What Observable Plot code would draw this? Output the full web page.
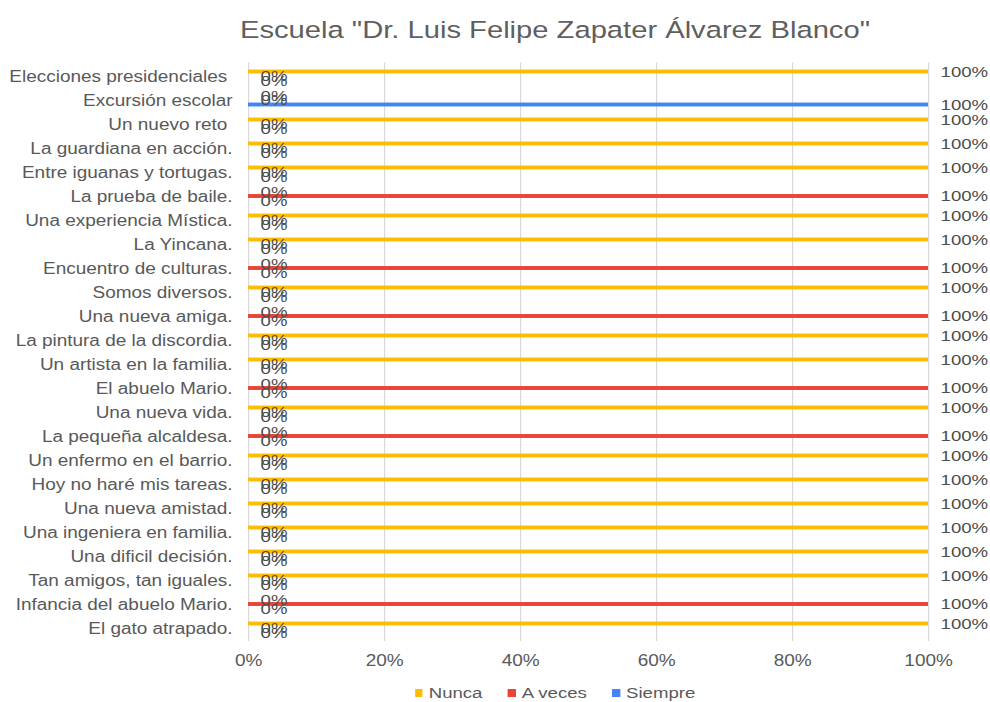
<!DOCTYPE html>
<html>
<head>
<meta charset="utf-8">
<script src="https://cdn.jsdelivr.net/npm/d3@7"></script>
<script src="https://cdn.jsdelivr.net/npm/@observablehq/plot@0.6"></script>
<style>
  html, body { margin: 0; padding: 0; background: #fff; overflow: hidden; }
  #wrap { width: 825px; transform: scaleX(1.2); transform-origin: 0 0; font-family: "Liberation Sans", Arial, sans-serif; }
  #title { width: 825px; box-sizing: border-box; padding-left: 100px; height: 50px; padding-top: 18px; line-height: 24px; font-size: 24.3px; color: #5f5f5f; text-align: center; white-space: nowrap; }
  #legend { width: 825px; box-sizing: border-box; padding-left: 100px; height: 25px; padding-top: 6px; line-height: 20px; font-size: 15.5px; color: #595959; display: flex; justify-content: center; gap: 21px; }
  .item { display: inline-flex; align-items: center; }
  .sw { display: inline-block; width: 6.7px; height: 8px; margin-right: 5px; }
</style>
</head>
<body>
<div id="wrap">
  <div id="title"></div>
  <div id="chart"></div>
  <div id="legend"></div>
</div>
<script>
const title = 'Escuela "Dr. Luis Felipe Zapater Álvarez Blanco"';

const categories = [
  "Elecciones presidenciales\u00A0",
  "Excursión escolar",
  "Un nuevo reto\u00A0",
  "La guardiana en acción.",
  "Entre iguanas y tortugas.",
  "La prueba de baile.",
  "Una experiencia Mística.",
  "La Yincana.",
  "Encuentro de culturas.",
  "Somos diversos.",
  "Una nueva amiga.",
  "La pintura de la discordia.",
  "Un artista en la familia.",
  "El abuelo Mario.",
  "Una nueva vida.",
  "La pequeña alcaldesa.",
  "Un enfermo en el barrio.",
  "Hoy no haré mis tareas.",
  "Una nueva amistad.",
  "Una ingeniera en familia.",
  "Una dificil decisión.",
  "Tan amigos, tan iguales.",
  "Infancia del abuelo Mario.",
  "El gato atrapado."
];

const seriesNames = ["Nunca", "A veces", "Siempre"];
const seriesColors = ["#FBBC04", "#EA4335", "#4285F4"];

const nunca   = [1,0,1,1,1,0,1,1,0,1,0,1,1,0,1,0,1,1,1,1,1,1,0,1];
const aVeces  = [0,0,0,0,0,1,0,0,1,0,1,0,0,1,0,1,0,0,0,0,0,0,1,0];
const siempre = [0,1,0,0,0,0,0,0,0,0,0,0,0,0,0,0,0,0,0,0,0,0,0,0];

const xTicks = [0, 0.2, 0.4, 0.6, 0.8, 1];

const seriesValues = {"Nunca": nunca, "A veces": aVeces, "Siempre": siempre};
const rows = categories.flatMap((c, i) =>
  seriesNames.map(s => ({category: c, series: s, value: seriesValues[s][i]}))
);

// vertical offset of each series bar inside its category band
const offsets = {"Nunca": -4.5, "A veces": 0, "Siempre": 4.5};
const fmt = d3.format(".0%");

document.getElementById("title").textContent = title;

const chart = Plot.plot({
  width: 825,
  height: 627,
  marginTop: 12.5,
  marginBottom: 36,
  marginLeft: 206.67,
  marginRight: 51.67,
  style: {
    fontFamily: "'Liberation Sans', Arial, sans-serif",
    fontSize: "15.8px",
    color: "#595959",
    background: "white"
  },
  x: {
    domain: [0, 1],
    ticks: xTicks,
    tickFormat: fmt,
    tickSize: 0,
    tickPadding: 13.5,
    label: null
  },
  y: {
    domain: categories,
    padding: 0,
    tickSize: 0,
    tickPadding: 13.33,
    label: null
  },
  color: {domain: seriesNames, range: seriesColors},
  marks: [
    Plot.ruleX(xTicks, {stroke: "#d9d9d9", strokeWidth: 1}),
    ...seriesNames.map(s =>
      Plot.barX(rows.filter(d => d.series === s && d.value > 0), {
        x1: 0,
        x2: "value",
        y: "category",
        fill: "series",
        dy: offsets[s],
        insetTop: 10.05,
        insetBottom: 10.05
      })
    ),
    ...seriesNames.map(s =>
      Plot.text(rows.filter(d => d.series === s), {
        x: "value",
        y: "category",
        text: d => fmt(d.value),
        dx: 10,
        dy: offsets[s],
        textAnchor: "start",
        fill: "#4d4d4d",
        fontSize: 15.5
      })
    )
  ]
});
document.getElementById("chart").appendChild(chart);

const legend = document.getElementById("legend");
seriesNames.forEach((s, i) => {
  const item = document.createElement("span");
  item.className = "item";
  const sw = document.createElement("span");
  sw.className = "sw";
  sw.style.background = seriesColors[i];
  item.appendChild(sw);
  item.appendChild(document.createTextNode(s));
  legend.appendChild(item);
});
</script>
</body>
</html>
